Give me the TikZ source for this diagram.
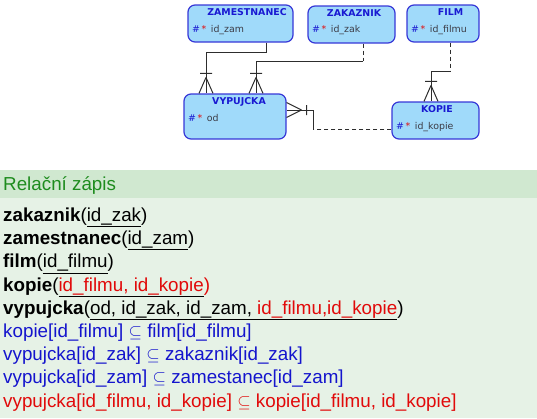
\documentclass[tikz,border=0pt]{standalone}
\usepackage{fontspec}
\setmainfont{Liberation Sans}
\newfontfamily\boxfont{DejaVu Sans}
\definecolor{boxfill}{RGB}{160,218,250}
\definecolor{boxdraw}{RGB}{55,55,215}
\definecolor{titleblue}{RGB}{25,25,210}
\definecolor{attrgray}{RGB}{60,60,70}
\definecolor{hdrbg}{RGB}{208,232,208}
\definecolor{bodybg}{RGB}{230,242,230}
\definecolor{hdrgreen}{RGB}{30,140,30}
\definecolor{txtblue}{RGB}{20,20,205}
\definecolor{txtred}{RGB}{225,10,10}
\definecolor{linegray}{RGB}{45,45,45}
\newcommand\ulin[1]{\setbox0\hbox{#1}\rlap{\color{black}\rule[-5.5pt]{\wd0}{0.8pt}}\box0}
\begin{document}
\begin{tikzpicture}[x=1pt,y=-1pt,
  erbox/.style={draw=boxdraw,line width=1.2pt,fill=boxfill,rounded corners=7pt,inner sep=0pt},
  ertitle/.style={inner sep=0pt,anchor=base,font=\boxfont\bfseries\fontsize{9.4}{10}\selectfont,text=titleblue},
  erattr/.style={inner sep=0pt,anchor=base west,font=\boxfont\fontsize{9.4}{10}\selectfont,text=attrgray},
  rel/.style={draw=linegray,line width=1pt},
  reldash/.style={rel,dash pattern=on 4pt off 3pt},
  txt/.style={inner sep=0pt,anchor=base west,font=\fontsize{18.8}{23.2}\selectfont},
  crowv/.pic={\draw[rel] (-6,-20)--(6,-20) (0,-16)--(-7,0) (0,-16)--(7,0);},
  crowh/.pic={\draw[rel] (20,-5)--(20,5) (15,0)--(0,-7.5) (15,0)--(0,7.5);}
]
\useasboundingbox (0,0) rectangle (537,418);
% lower panel
\fill[bodybg] (0,198) rectangle (537,418);
\fill[hdrbg] (0,170) rectangle (537,198);

% entity boxes
\node[erbox,minimum width=105pt,minimum height=37pt] (zam) at (240.5,23.5) {};
\node[erbox,minimum width=87pt,minimum height=37pt] (zak) at (351.5,24.5) {};
\node[erbox,minimum width=72pt,minimum height=37pt] (film) at (443,23.5) {};
\node[erbox,minimum width=102pt,minimum height=45pt] (vyp) at (235,116.5) {};
\node[erbox,minimum width=87pt,minimum height=37pt] (kop) at (435.5,120.5) {};

\node[ertitle] (zamt) at (247,15.5) {ZAMESTNANEC};
\node[ertitle] (zakt) at (354,16) {ZAKAZNIK};
\node[ertitle] (filmt) at (450.5,15.5) {FILM};
\node[ertitle] (vypt) at (239,104) {VYPUJCKA};
\node[ertitle] (kopt) at (437,112) {KOPIE};

\node[erattr] (zama) at (192,32.5) {{\color{titleblue}\#}\,{\color{txtred}*}\, id\_zam};
\node[erattr] (zaka) at (312,32.5) {{\color{titleblue}\#}\,{\color{txtred}*}\, id\_zak};
\node[erattr] (filma) at (411,32.5) {{\color{titleblue}\#}\,{\color{txtred}*}\, id\_filmu};
\node[erattr] (vypa) at (188,121) {{\color{titleblue}\#}\,{\color{txtred}*}\, od};
\node[erattr] (kopa) at (396,129) {{\color{titleblue}\#}\,{\color{txtred}*}\, id\_kopie};

% relationships
\coordinate (a1) at (266,52);
\coordinate (a2) at (206,52);
\draw[rel] (zam.south -| a1) -- (a1) -- (a2) -- (a2 |- vyp.north);
\pic at (a2 |- vyp.north) {crowv};

\coordinate (b0) at (363,61);
\coordinate (b1) at (256,61);
\draw[reldash] (zak.south -| b0) -- (b0);
\draw[rel] (b0) -- (b1) -- (b1 |- vyp.north);
\pic at (b1 |- vyp.north) {crowv};

\coordinate (c0) at (450,71);
\coordinate (c1) at (431,71);
\draw[reldash] (film.south -| c0) -- (c0);
\draw[rel] (c0) -- (c1) -- (c1 |- kop.north);
\pic at (c1 |- kop.north) {crowv};

\coordinate (d0) at (313,129);
\coordinate (d1) at (313,110);
\draw[reldash] (kop.west |- d0) -- (d0);
\draw[rel] (d0) -- (d1) -- (d1 -| vyp.east);
\pic at (d1 -| vyp.east) {crowh};

% relational notation
\node[txt,text=hdrgreen] (hdr) at (3,190) {Relační zápis};
\node[txt] (l1) at (3,221.5) {\textbf{zakaznik}(\ulin{id\_zak})};
\node[txt] (l2) at (3,244.7) {\textbf{zamestnanec}(\ulin{id\_zam})};
\node[txt] (l3) at (3,267.9) {\textbf{film}(\ulin{id\_filmu})};
\node[txt] (l4) at (3,291.1) {\textbf{kopie}(\ulin{\color{txtred}id\_filmu, id\_kopie})};
\node[txt] (l5) at (3,314.3) {\textbf{vypujcka}(\ulin{od, id\_zak, id\_zam, {\color{txtred}id\_filmu,id\_kopie}})};
\node[txt,text=txtblue] (l6) at (3,337.5) {kopie[id\_filmu] $\subseteq$ film[id\_filmu]};
\node[txt,text=txtblue] (l7) at (3,360.7) {vypujcka[id\_zak] $\subseteq$ zakaznik[id\_zak]};
\node[txt,text=txtblue] (l8) at (3,383.9) {vypujcka[id\_zam] $\subseteq$ zamestanec[id\_zam]};
\node[txt,text=txtred] (l9) at (3,407.1) {vypujcka[id\_filmu, id\_kopie] $\subseteq$ kopie[id\_filmu, id\_kopie]};
\end{tikzpicture}
\end{document}
